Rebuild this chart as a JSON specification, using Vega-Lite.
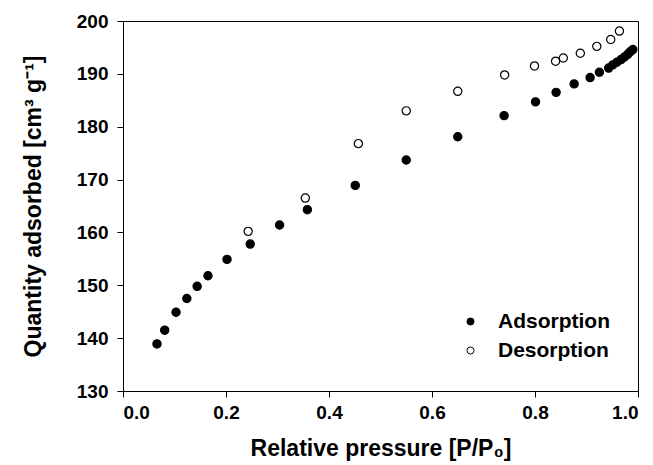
{
  "$schema": "https://vega.github.io/schema/vega-lite/v6.json",
  "width": 515,
  "height": 370,
  "autosize": {"type": "none"},
  "padding": {"left": 123, "top": 21, "right": 15, "bottom": 74},
  "background": "white",
  "config": {
    "font": "Liberation Sans",
    "view": {"stroke": "black", "strokeWidth": 1},
    "axis": {
      "grid": false,
      "domainColor": "black",
      "tickColor": "black",
      "labelColor": "black",
      "titleColor": "black",
      "labelFont": "Liberation Sans",
      "titleFont": "Liberation Sans",
      "labelFontSize": 19,
      "labelFontWeight": "bold",
      "titleFontSize": 23,
      "titleFontWeight": "bold",
      "tickSize": 6
    }
  },
  "data": {
    "values": [
      {"p": 0.066, "q": 138.9, "branch": "Adsorption"},
      {"p": 0.081, "q": 141.5, "branch": "Adsorption"},
      {"p": 0.103, "q": 144.9, "branch": "Adsorption"},
      {"p": 0.124, "q": 147.5, "branch": "Adsorption"},
      {"p": 0.144, "q": 149.8, "branch": "Adsorption"},
      {"p": 0.165, "q": 151.8, "branch": "Adsorption"},
      {"p": 0.202, "q": 154.9, "branch": "Adsorption"},
      {"p": 0.247, "q": 157.8, "branch": "Adsorption"},
      {"p": 0.304, "q": 161.4, "branch": "Adsorption"},
      {"p": 0.358, "q": 164.3, "branch": "Adsorption"},
      {"p": 0.451, "q": 168.9, "branch": "Adsorption"},
      {"p": 0.550, "q": 173.7, "branch": "Adsorption"},
      {"p": 0.650, "q": 178.1, "branch": "Adsorption"},
      {"p": 0.740, "q": 182.1, "branch": "Adsorption"},
      {"p": 0.801, "q": 184.7, "branch": "Adsorption"},
      {"p": 0.841, "q": 186.5, "branch": "Adsorption"},
      {"p": 0.876, "q": 188.1, "branch": "Adsorption"},
      {"p": 0.907, "q": 189.3, "branch": "Adsorption"},
      {"p": 0.925, "q": 190.3, "branch": "Adsorption"},
      {"p": 0.943, "q": 191.1, "branch": "Adsorption"},
      {"p": 0.951, "q": 191.7, "branch": "Adsorption"},
      {"p": 0.959, "q": 192.2, "branch": "Adsorption"},
      {"p": 0.967, "q": 192.7, "branch": "Adsorption"},
      {"p": 0.974, "q": 193.2, "branch": "Adsorption"},
      {"p": 0.980, "q": 193.7, "branch": "Adsorption"},
      {"p": 0.985, "q": 194.2, "branch": "Adsorption"},
      {"p": 0.990, "q": 194.6, "branch": "Adsorption"},
      {"p": 0.243, "q": 160.2, "branch": "Desorption"},
      {"p": 0.354, "q": 166.5, "branch": "Desorption"},
      {"p": 0.457, "q": 176.8, "branch": "Desorption"},
      {"p": 0.550, "q": 183.0, "branch": "Desorption"},
      {"p": 0.650, "q": 186.7, "branch": "Desorption"},
      {"p": 0.741, "q": 189.8, "branch": "Desorption"},
      {"p": 0.799, "q": 191.5, "branch": "Desorption"},
      {"p": 0.840, "q": 192.4, "branch": "Desorption"},
      {"p": 0.855, "q": 193.0, "branch": "Desorption"},
      {"p": 0.888, "q": 193.9, "branch": "Desorption"},
      {"p": 0.920, "q": 195.2, "branch": "Desorption"},
      {"p": 0.947, "q": 196.5, "branch": "Desorption"},
      {"p": 0.964, "q": 198.1, "branch": "Desorption"}
    ]
  },
  "mark": {"type": "point", "shape": "circle", "filled": true, "stroke": "black", "strokeWidth": 1.2, "size": 68, "opacity": 1},
  "encoding": {
    "x": {
      "field": "p",
      "type": "quantitative",
      "scale": {"domain": [0, 1], "nice": false, "zero": false},
      "axis": {"values": [0, 0.2, 0.4, 0.6, 0.8, 1.0], "format": ".1f", "labelPadding": 6, "title": "Relative pressure [P/P₀]", "titlePadding": 15}
    },
    "y": {
      "field": "q",
      "type": "quantitative",
      "scale": {"domain": [130, 200], "nice": false, "zero": false},
      "axis": {"values": [130, 140, 150, 160, 170, 180, 190, 200], "labelPadding": 9, "title": "Quantity adsorbed [cm³ g⁻¹]", "titlePadding": 31}
    },
    "fill": {
      "field": "branch",
      "type": "nominal",
      "scale": {"domain": ["Adsorption", "Desorption"], "range": ["black", "white"]},
      "legend": {
        "title": null,
        "orient": "none",
        "legendX": 337,
        "legendY": 290,
        "symbolType": "circle",
        "symbolSize": 50,
        "symbolStrokeColor": "black",
        "symbolStrokeWidth": 1,
        "labelFont": "Liberation Sans",
        "labelFontSize": 21,
        "labelFontWeight": "bold",
        "labelColor": "black",
        "labelOffset": 17,
        "rowPadding": 7
      }
    }
  }
}
